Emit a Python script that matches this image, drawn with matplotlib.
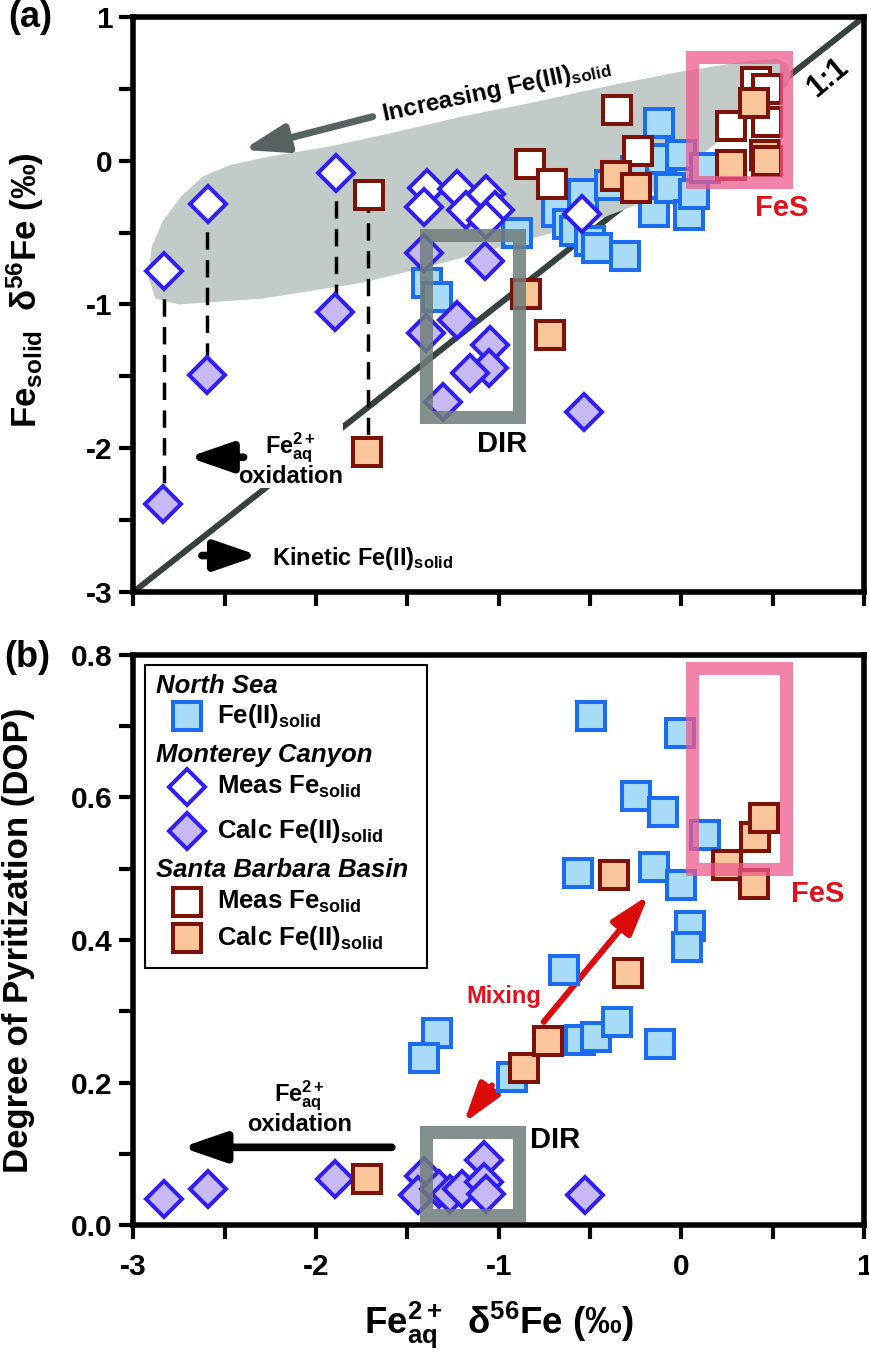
import numpy as np
import matplotlib
matplotlib.use("Agg")
import matplotlib.pyplot as plt
from matplotlib.patches import Rectangle

plt.rcParams['font.family'] = ['Liberation Sans', 'DejaVu Sans']
plt.rcParams['font.weight'] = 'bold'
plt.rcParams['axes.labelweight'] = 'bold'
plt.rcParams['mathtext.fontset'] = 'custom'
plt.rcParams['mathtext.rm'] = 'Liberation Sans:bold'
plt.rcParams['mathtext.it'] = 'Liberation Sans:bold:italic'
plt.rcParams['mathtext.bf'] = 'Liberation Sans:bold'
plt.rcParams['mathtext.default'] = 'rm'
plt.rcParams['axes.unicode_minus'] = False

# ---- panel (a): Fe2+aq d56Fe vs Fe solid d56Fe ----
# North Sea Fe(II)solid
ns_a_x = [-1.39, -1.34, -0.90, -0.68, -0.62, -0.54, -0.58, -0.50, -0.46, -0.31,
          -0.39, -0.25, -0.15, -0.12, -0.11, -0.06, 0.00, 0.04, 0.07, 0.13]
ns_a_y = [-0.85, -0.95, -0.50, -0.36, -0.44, -0.23, -0.49, -0.56, -0.61, -0.66,
          -0.17, -0.07, -0.36, 0.26, 0.01, -0.19, 0.04, -0.38, -0.23, -0.05]
# Monterey Canyon measured Fe solid
mc_meas_x = [-2.835, -2.59, -1.89, -1.39, -1.41, -1.23, -1.18, -1.07, -1.02, -1.07, -0.544]
mc_meas_y = [-0.77, -0.30, -0.083, -0.19, -0.32, -0.20, -0.34, -0.23, -0.34, -0.41, -0.37]
# Monterey Canyon calculated Fe(II)solid
mc_calc_a_x = [-2.84, -2.60, -1.895, -1.41, -1.073, -1.397, -1.228, -1.046, -1.055, -1.159, -1.305, -0.531]
mc_calc_a_y = [-2.39, -1.49, -1.05, -0.64, -0.70, -1.20, -1.108, -1.28, -1.444, -1.48, -1.68, -1.746]
# Santa Barbara Basin measured Fe solid
sb_meas_x = [-1.71, -0.83, -0.71, -0.35, -0.24, 0.27, 0.41, 0.47, 0.47]
sb_meas_y = [-0.24, -0.02, -0.16, 0.35, 0.07, 0.24, 0.55, 0.50, 0.27]
# Santa Barbara Basin calculated Fe(II)solid
sb_calc_a_x = [-1.72, -0.85, -0.72, -0.36, -0.25, 0.27, 0.40, 0.46, 0.47]
sb_calc_a_y = [-2.03, -0.93, -1.21, -0.11, -0.19, -0.03, 0.40, 0.04, 0.00]

# measured -> calculated links (dashed)
link_x = [-2.835, -2.595, -1.892, -1.715]
link_top = [-0.77, -0.30, -0.083, -0.24]
link_bot = [-2.39, -1.49, -1.05, -2.03]

# shaded "increasing Fe(III)solid" field
field_x = [-2.92, -2.90, -2.84, -2.74, -2.62, -2.47, -2.25, -1.92, -1.56, -1.19, -0.83,
           -0.40, 0.00, 0.35, 0.52, 0.58, 0.60, 0.58, 0.52, 0.30, 0.00, -0.25, -0.50,
           -0.90, -1.30, -1.75, -2.30, -2.75, -2.88]
field_y = [-0.80, -0.60, -0.42, -0.25, -0.11, -0.03, 0.03, 0.10, 0.20, 0.31, 0.40,
           0.52, 0.62, 0.69, 0.71, 0.67, 0.60, 0.52, 0.46, 0.23, -0.07, -0.31, -0.43,
           -0.57, -0.71, -0.85, -0.96, -1.00, -0.96]

# ---- panel (b): Fe2+aq d56Fe vs DOP ----
ns_b_x = [-0.495, -0.005, -0.248, -0.102, 0.131, -0.568, -0.148, -0.002, 0.045, 0.031,
          -0.645, -1.338, -1.411, -0.927, -0.553, -0.47, -0.352, -0.119]
ns_b_y = [0.715, 0.691, 0.602, 0.580, 0.548, 0.494, 0.502, 0.477, 0.419, 0.390,
          0.358, 0.269, 0.234, 0.208, 0.260, 0.264, 0.285, 0.254]
mc_calc_b_x = [-2.831, -2.594, -1.895, -1.411, -1.444, -1.329, -1.265, -1.201, -1.083, -1.079, -1.068, -0.526]
mc_calc_b_y = [0.036, 0.051, 0.065, 0.069, 0.042, 0.050, 0.044, 0.050, 0.091, 0.061, 0.044, 0.042]
sb_calc_b_x = [-1.72, -0.864, -0.732, -0.367, -0.29, 0.25, 0.396, 0.405, 0.451]
sb_calc_b_y = [0.065, 0.220, 0.258, 0.491, 0.354, 0.505, 0.479, 0.545, 0.571]

# boxes: (x0, x1, y0, y1)
dir_box_a = (-1.397, -0.89, -1.783, -0.517)
fes_box_a = (0.0575, 0.574, -0.148, 0.722)
dir_box_b = (-1.397, -0.89, 0.014, 0.1305)
fes_box_b = (0.0575, 0.575, 0.499, 0.782)

# marker styles
ns_style = dict(marker='s', ms=19.5, mfc='#a8dcf6', mec='#1c6cf2', mew=2.9, ls='none')
mc_meas_style = dict(marker='D', ms=18.5, mfc='white', mec='#2f1ff0', mew=2.9, ls='none')
mc_calc_style = dict(marker='D', ms=18.5, mfc='#c7b9f3', mec='#2f1ff0', mew=2.9, ls='none')
sb_meas_style = dict(marker='s', ms=19.5, mfc='white', mec='#7d1209', mew=2.9, ls='none')
sb_calc_style = dict(marker='s', ms=19.5, mfc='#f9c69b', mec='#7d1209', mew=2.9, ls='none')

GRAY_BOX = '#6f7d7a'
PINK_BOX = '#ee5a8c'
RED = '#e3101c'


def box(ax, b, color, alpha):
    x0, x1, y0, y1 = b
    ax.add_patch(Rectangle((x0, y0), x1 - x0, y1 - y0, fill=False, edgecolor=color,
                           lw=9.4, alpha=alpha, zorder=7, joinstyle='miter'))


def arrow(ax, tail, tip, color, lw, hl, hw, z=6):
    ax.annotate('', xy=tip, xytext=tail, zorder=z,
                arrowprops=dict(arrowstyle=f'-|>,head_length={hl},head_width={hw}',
                                color=color, lw=lw, shrinkA=0, shrinkB=0,
                                mutation_scale=1))


def style_axes(ax):
    for s in ax.spines.values():
        s.set_linewidth(4)
    ax.tick_params(which='both', direction='out', length=10, width=3,
                   labelsize=21.5, pad=5)


fig = plt.figure(figsize=(8.7, 13.53), dpi=100)
ax_a = fig.add_axes([0.1534, 0.5625, 0.8397, 0.425])
ax_b = fig.add_axes([0.1534, 0.0946, 0.8397, 0.4213])

# ---------------- panel a ----------------
ax_a.plot([-3, 1], [-3, 1], color='#35423f', lw=4.3, zorder=1, solid_capstyle='butt')
ax_a.fill(field_x, field_y, color='#c3cbc9', lw=0, zorder=2)
for lx, lt, lb in zip(link_x, link_top, link_bot):
    ax_a.plot([lx, lx], [lt, lb], color='black', lw=2.5, dashes=(5, 3), zorder=2.5)

ax_a.plot(ns_a_x, ns_a_y, zorder=3, **ns_style)
ax_a.plot(mc_meas_x, mc_meas_y, zorder=4, **mc_meas_style)
ax_a.plot(mc_calc_a_x, mc_calc_a_y, zorder=4, **mc_calc_style)
ax_a.plot(sb_meas_x, sb_meas_y, zorder=5, **sb_meas_style)
ax_a.plot(sb_calc_a_x, sb_calc_a_y, zorder=5, **sb_calc_style)

box(ax_a, dir_box_a, GRAY_BOX, 0.85)
box(ax_a, fes_box_a, PINK_BOX, 0.75)

ax_a.text(-0.98, -1.97, 'DIR', fontsize=21, ha='center', va='center', zorder=8)
ax_a.text(0.55, -0.33, 'FeS', fontsize=21, color=RED, ha='center', va='center', zorder=8)
ax_a.text(0.80, 0.58, '1:1', fontsize=22, rotation=40, ha='center', va='center', zorder=8)
ax_a.text(-1.632, 0.272, 'Increasing Fe(III)$_{solid}$', fontsize=17.5, rotation=12,
          rotation_mode='anchor', ha='left', va='baseline', zorder=8)
arrow(ax_a, (-1.69, 0.306), (-2.40, 0.075), '#56625f', 5, 26, 8.5)

ax_a.text(-2.14, -2.08, 'Fe$^{2+}_{aq}$\noxidation', fontsize=17, ha='center', va='center',
          multialignment='center', linespacing=1.0, zorder=6,
          bbox=dict(facecolor='white', edgecolor='none', pad=0))
arrow(ax_a, (-2.397, -2.063), (-2.70, -2.063), 'black', 5.5, 26, 9)

arrow(ax_a, (-2.625, -2.747), (-2.315, -2.747), 'black', 5.5, 26, 9)
ax_a.text(-2.24, -2.81, 'Kinetic Fe(II)$_{solid}$', fontsize=17, ha='left', va='baseline', zorder=8)

ax_a.set_xlim(-3, 1)
ax_a.set_ylim(-3, 1)
ax_a.set_xticks(np.arange(-3, 1.01, 0.5))
ax_a.set_yticks([-3, -2, -1, 0, 1])
ax_a.set_yticks(np.arange(-3, 1.01, 0.5), minor=True)
ax_a.tick_params(labelbottom=False)
style_axes(ax_a)
ax_a.set_ylabel('Fe$_{solid}$  δ$^{56}$Fe (‰)', fontsize=25)
ax_a.yaxis.set_label_coords(-0.12, 0.525)

# ---------------- panel b ----------------
arrow(ax_b, (-0.754, 0.285), (-0.179, 0.463), '#dd0a0a', 4.3, 24, 7.5, z=2)
arrow(ax_b, (-1.037, 0.196), (-1.192, 0.143), '#dd0a0a', 4.3, 24, 7.5, z=2)
ax_b.text(-0.97, 0.321, 'Mixing', fontsize=17, color=RED, ha='center', va='center', zorder=8)

ax_b.plot(ns_b_x, ns_b_y, zorder=3, **ns_style)
ax_b.plot(mc_calc_b_x, mc_calc_b_y, zorder=4, **mc_calc_style)
ax_b.plot(sb_calc_b_x, sb_calc_b_y, zorder=5, **sb_calc_style)

box(ax_b, dir_box_b, GRAY_BOX, 0.85)
box(ax_b, fes_box_b, PINK_BOX, 0.75)
ax_b.text(-0.827, 0.119, 'DIR', fontsize=21, ha='left', va='center', zorder=8)
ax_b.text(0.60, 0.465, 'FeS', fontsize=21, color=RED, ha='left', va='center', zorder=8)

arrow(ax_b, (-1.585, 0.109), (-2.735, 0.109), 'black', 5.5, 26, 9)
ax_b.text(-2.09, 0.165, 'Fe$^{2+}_{aq}$\noxidation', fontsize=17, ha='center', va='center',
          multialignment='center', linespacing=1.0, zorder=8)

# legend drawn by hand, in axes fraction
ax_b.add_patch(Rectangle((0.0157, 0.451), 0.386, 0.531, transform=ax_b.transAxes,
                         facecolor='white', edgecolor='black', lw=1.5, zorder=9))
legend_headers = [('North Sea', 0.946), ('Monterey Canyon', 0.8246), ('Santa Barbara Basin', 0.623)]
legend_entries = [(ns_style, 'Fe(II)$_{solid}$', 0.8935),
                  (mc_meas_style, 'Meas Fe$_{solid}$', 0.768),
                  (mc_calc_style, 'Calc Fe(II)$_{solid}$', 0.692),
                  (sb_meas_style, 'Meas Fe$_{solid}$', 0.567),
                  (sb_calc_style, 'Calc Fe(II)$_{solid}$', 0.503)]
for name, yy in legend_headers:
    ax_b.text(0.031, yy, name, transform=ax_b.transAxes, fontsize=18.5, fontstyle='italic',
              ha='left', va='center', zorder=10)
for st, lab, yy in legend_entries:
    ax_b.plot([0.0737], [yy], transform=ax_b.transAxes, clip_on=False, zorder=10, **st)
    ax_b.text(0.114, yy, lab, transform=ax_b.transAxes, fontsize=18.5,
              ha='left', va='center', zorder=10)

ax_b.set_xlim(-3, 1)
ax_b.set_ylim(0, 0.8)
ax_b.set_xticks([-3, -2, -1, 0, 1])
ax_b.set_xticks(np.arange(-3, 1.01, 0.5), minor=True)
ax_b.set_yticks([0.0, 0.2, 0.4, 0.6, 0.8])
ax_b.set_yticks(np.arange(0, 0.81, 0.1), minor=True)
ax_b.set_yticklabels(['0.0', '0.2', '0.4', '0.6', '0.8'])
style_axes(ax_b)
ax_b.tick_params(axis='x', pad=10)
ax_b.set_ylabel('Degree of Pyritization (DOP)', fontsize=25)
ax_b.yaxis.set_label_coords(-0.135, 0.5)
ax_b.set_xlabel('Fe$^{2+}_{aq}$  δ$^{56}$Fe (‰)', fontsize=26.5)
ax_b.xaxis.set_label_coords(0.5, -0.13)

fig.text(0.0345, 0.987, '(a)', fontsize=26, ha='center', va='center')
fig.text(0.031, 0.514, '(b)', fontsize=26, ha='center', va='center')

fig.savefig('out.png', dpi=100)
